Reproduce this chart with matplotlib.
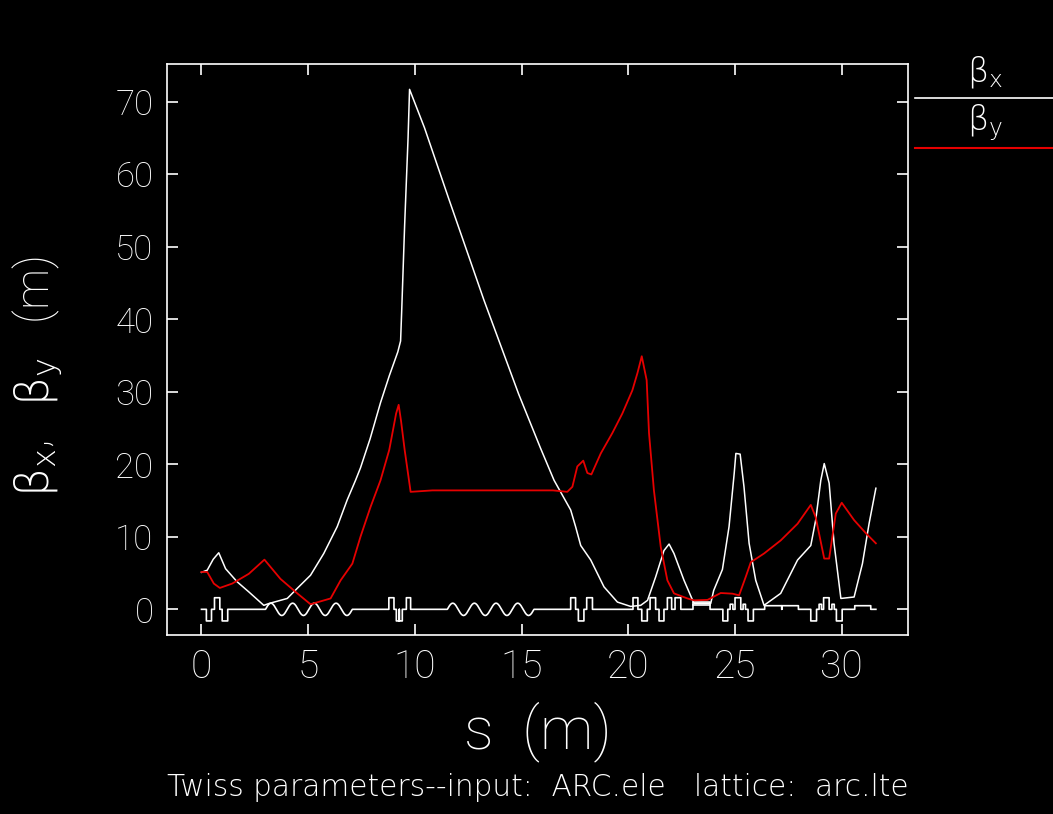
import numpy as np
import matplotlib.pyplot as plt
from matplotlib.lines import Line2D

# beta functions
s_x = [0.0, 0.27, 0.55, 0.81, 1.13, 1.67, 2.22, 2.92, 3.16, 4.02, 4.49, 5.11, 5.73,
       6.36, 6.83, 7.22, 7.45, 7.9, 8.39, 8.8, 9.2, 9.33, 9.38, 9.45, 9.52, 9.6,
       9.68, 9.75, 10.45, 11.6, 13.24, 14.86, 15.89, 16.52, 17.3, 17.53, 17.77,
       18.24, 18.86, 19.49, 20.11, 20.58, 20.9, 21.28, 21.67, 21.91, 22.14, 22.61,
       23.08, 23.86, 24.0, 24.41, 24.72, 24.96, 25.04, 25.24, 25.42, 25.66, 25.97,
       26.36, 27.14, 27.93, 28.55, 28.78, 29.02, 29.18, 29.41, 29.64, 29.96, 30.58,
       30.97, 31.28, 31.6]
beta_x = [5.1, 5.4, 6.9, 7.8, 5.6, 3.8, 2.4, 0.55, 0.8, 1.5, 2.9, 4.7, 7.7,
          11.4, 15.1, 17.8, 19.5, 23.5, 28.5, 32.2, 35.5, 37.0, 41.0, 47.0, 53.0, 59.0,
          65.0, 71.7, 66.4, 56.5, 42.6, 29.7, 22.2, 17.8, 13.7, 11.4, 8.8,
          6.8, 3.1, 1.0, 0.4, 0.55, 1.24, 4.46, 8.1, 9.0, 7.7, 4.0,
          0.8, 0.8, 2.6, 5.5, 11.4, 18.7, 21.5, 21.4, 16.9, 9.1, 4.0,
          0.55, 2.2, 6.8, 8.8, 12.3, 17.8, 20.1, 17.4, 9.1, 1.5, 1.7,
          6.3, 11.8, 16.7]

s_y = [0.0, 0.27, 0.58, 0.86, 1.44, 2.22, 2.95, 3.7, 4.49, 5.11, 6.05, 6.52, 7.07,
       7.45, 7.92, 8.39, 8.8, 9.12, 9.24, 9.35, 9.52, 9.8, 10.82, 16.47, 17.14,
       17.38, 17.61, 17.89, 18.08, 18.27, 18.71, 19.25, 19.72, 20.19, 20.43, 20.63,
       20.86, 20.97, 21.2, 21.52, 21.83, 22.14, 22.77, 23.08, 23.71, 24.33, 24.88,
       25.19, 25.5, 25.74, 26.36, 27.14, 27.93, 28.55, 28.78, 29.18, 29.41, 29.72,
       30.0, 30.58, 31.13, 31.6]
beta_y = [5.15, 5.15, 3.55, 2.95, 3.55, 4.9, 6.85, 4.2, 2.2, 0.7, 1.5, 4.0, 6.3,
          10.0, 14.1, 17.8, 22.0, 27.0, 28.2, 26.0, 22.0, 16.2, 16.4, 16.4, 16.2,
          16.9, 19.7, 20.5, 18.8, 18.6, 21.5, 24.3, 27.0, 30.2, 32.6, 34.9,
          31.6, 24.3, 16.4, 8.6, 4.0, 2.2, 1.5, 1.24, 1.3, 2.25, 2.16,
          1.93, 4.46, 6.5, 7.7, 9.5, 11.8, 14.4, 12.7, 7.0, 7.0, 13.2,
          14.7, 12.3, 10.5, 9.1]

# lattice profile: element start, end, kind
elem_start = [0.23, 0.61, 0.97, 3.0, 8.78, 9.13, 9.27, 9.6, 11.52, 17.3, 17.66, 18.05,
              20.22, 20.63, 21.02, 21.44, 21.83, 22.19, 23.03, 24.43, 24.77, 25.0,
              25.38, 25.61, 26.39, 27.19, 28.55, 28.94, 29.15, 29.54, 29.75, 30.61]
elem_end = [0.47, 0.86, 1.23, 7.07, 9.02, 9.27, 9.41, 9.8, 15.58, 17.53, 17.92, 18.32,
            20.45, 20.89, 21.28, 21.67, 22.03, 22.46, 23.83, 24.66, 24.9, 25.27,
            25.49, 25.86, 27.19, 27.97, 28.82, 29.05, 29.41, 29.65, 30.02, 31.36]
elem_kind = ['QD', 'QF', 'QD', 'B', 'QF', 'QD', 'QD', 'QF', 'B', 'QF', 'QD', 'QF',
             'QF', 'QD', 'QF', 'QD', 'QF', 'QF', 'RF', 'QD', 'SX', 'QF',
             'SX', 'QD', 'R', 'R', 'QD', 'SX', 'QF', 'SX', 'QD', 'R']
lattice_end = 31.6

# glyph heights for the profile symbols
glyph_h = {'QF': 1.6, 'QD': -1.6, 'SX': 0.7, 'R': 0.5, 'RF': 1.0}

plt.rcParams['font.family'] = ['Roboto', 'DejaVu Sans']
plt.rcParams['font.weight'] = 'light'
plt.rcParams['mathtext.fontset'] = 'custom'
plt.rcParams['mathtext.rm'] = 'DejaVu Sans:light'
plt.rcParams['mathtext.it'] = 'DejaVu Sans:light'

fig = plt.figure(figsize=(10.53, 8.14), dpi=100, facecolor='black')
ax = fig.add_axes([0.1589, 0.2199, 0.7037, 0.7015], facecolor='black')

# build the profile polyline
px, py = [0.0], [0.0]
for a, b, k in zip(elem_start, elem_end, elem_kind):
    if k == 'B':
        t = np.linspace(0, 1, 81)
        px += list(a + (b - a) * t)
        py += list(0.85 * np.sin(2 * np.pi * 4 * t))
    else:
        h = glyph_h[k]
        px += [a, a, b, b]
        py += [0, h, h, 0]
px.append(lattice_end)
py.append(0.0)
ax.plot(px, py, color='white', lw=1.2)
# inner line of the flat RF box
for a, b, k in zip(elem_start, elem_end, elem_kind):
    if k == 'RF':
        ax.plot([a, b], [0.55, 0.55], color='white', lw=1.2)

ax.plot(s_x, beta_x, color='white', lw=1.1)
ax.plot(s_y, beta_y, color='#e60000', lw=1.3)

ax.set_xlim(-1.6, 33.12)
ax.set_ylim(-3.54, 75.2)
ax.set_xticks(range(0, 31, 5))
ax.set_yticks(range(0, 71, 10))
for sp in ax.spines.values():
    sp.set_color('white')
    sp.set_linewidth(1.2)
ax.tick_params(direction='in', length=8, width=1.2, colors='white',
               top=True, right=True)
ax.tick_params(axis='x', labelsize=28, pad=10)
ax.tick_params(axis='y', labelsize=25, pad=10)

fig.text(0.5104, 0.101, 's  (m)', color='white', fontsize=43,
         ha='center', va='center')
fig.text(0.036, 0.537, r'$\beta_x$,   $\beta_y$   (m)', color='white', fontsize=33,
         rotation=90, ha='center', va='center')
fig.text(0.5104, 0.032, 'Twiss parameters--input:  ARC.ele   lattice:  arc.lte',
         color='white', fontsize=21.3, family=['DejaVu Sans'], ha='center', va='center')

# legend outside on the right
fig.text(0.935, 0.91, r'$\beta_x$', color='white', fontsize=24, ha='center', va='center')
fig.text(0.935, 0.849, r'$\beta_y$', color='white', fontsize=24, ha='center', va='center')
fig.add_artist(Line2D([0.869, 1.0], [0.879, 0.879], color='white', lw=1.2))
fig.add_artist(Line2D([0.869, 1.0], [0.818, 0.818], color='#e60000', lw=1.5))

fig.savefig('out.png', dpi=100, facecolor='black')
